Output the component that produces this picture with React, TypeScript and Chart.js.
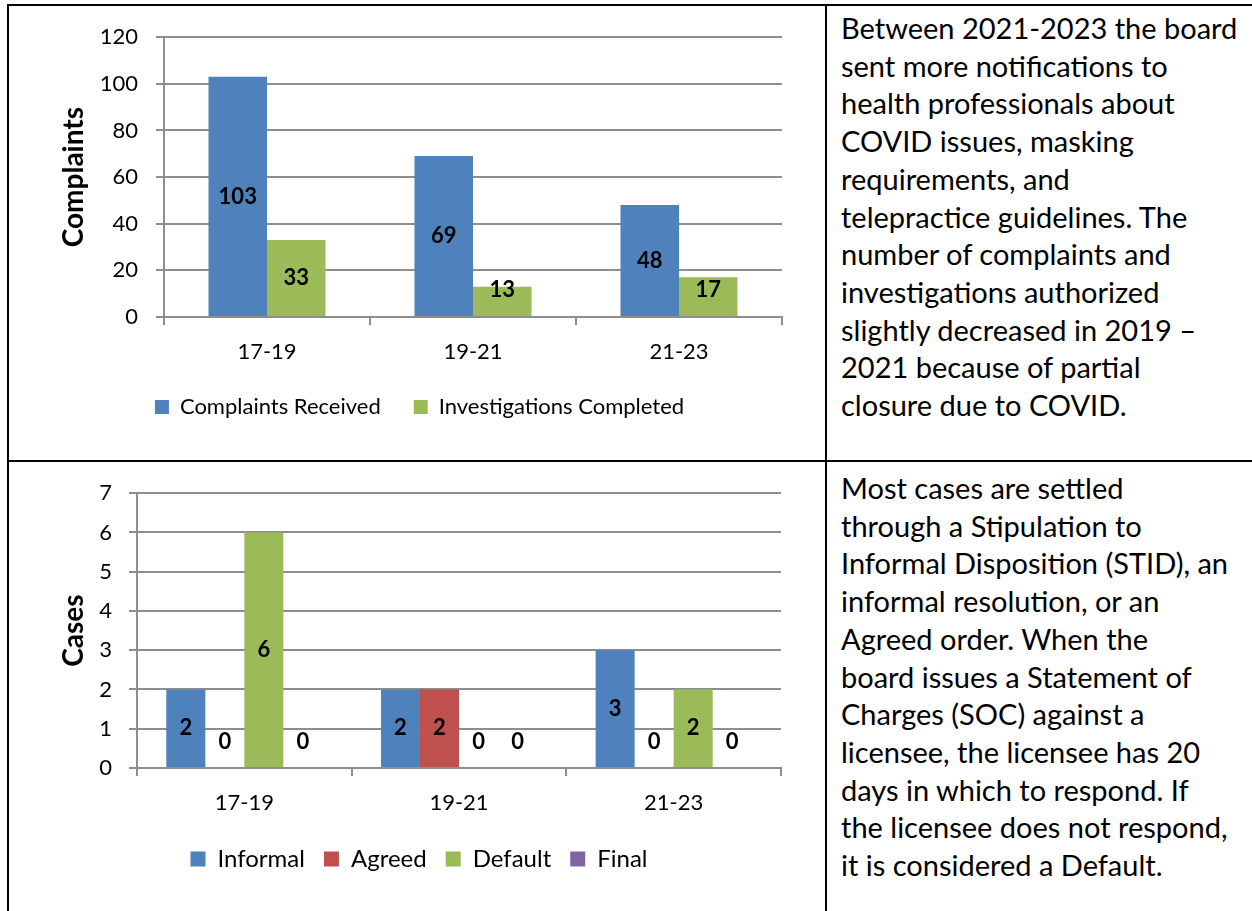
import React, { useEffect, useRef } from "react";
import { Chart, registerables } from "chart.js";

Chart.register(...registerables);

// ---------- data ----------
const periods = ["17-19", "19-21", "21-23"];
const complaintsReceived = [103, 69, 48];
const investigationsCompleted = [33, 13, 17];
const complaintsAxis = { min: 0, max: 120, step: 20 };

const informalCases = [2, 2, 3];
const agreedCases = [0, 2, 0];
const defaultCases = [6, 0, 2];
const finalCases = [0, 0, 0];
const casesAxis = { min: 0, max: 7, step: 1 };

const complaintsText = [
  "Between 2021-2023 the board",
  "sent more notifications to",
  "health professionals about",
  "COVID issues, masking",
  "requirements, and",
  "telepractice guidelines. The",
  "number of complaints and",
  "investigations authorized",
  "slightly decreased in 2019 \u2013",
  "2021 because of partial",
  "closure due to COVID.",
];
const casesText = [
  "Most cases are settled",
  "through a Stipulation to",
  "Informal Disposition (STID), an",
  "informal resolution, or an",
  "Agreed order. When the",
  "board issues a Statement of",
  "Charges (SOC) against a",
  "licensee, the licensee has 20",
  "days in which to respond. If",
  "the licensee does not respond,",
  "it is considered a Default.",
];

// ---------- style ----------
const FONT = "Lato, 'Open Sans', sans-serif";
const GRID = "#8e8e8e";
const BLUE = "#4F81BD";
const GREEN = "#9BBB59";
const RED = "#C0504D";
const PURPLE = "#8064A2";

const barLabelPlugin = {
  id: "barLabels",
  afterDatasetsDraw(chart: any) {
    const ctx = chart.ctx;
    ctx.save();
    ctx.font = `bold 22px ${FONT}`;
    ctx.fillStyle = "#000";
    ctx.textAlign = "center";
    ctx.textBaseline = "middle";
    chart.data.datasets.forEach((ds: any, i: number) => {
      const meta = chart.getDatasetMeta(i);
      meta.data.forEach((el: any, j: number) => {
        const { x, y, base } = el.getProps(["x", "y", "base"], true);
        const cy = Math.min((y + base) / 2, base - 26.5);
        ctx.fillText(String(ds.data[j]), x, cy);
      });
    });
    ctx.restore();
  },
};

type Cfg = {
  datasets: any[];
  axis: { min: number; max: number; step: number };
  title: string;
  catPct: number;
  canvasH: number;
  padLeft: number;
  padRight: number;
  padTop: number;
  areaBottom: number;
  yWidth: number;
  yTickPad: number;
  legendCenter: number;
  legendPad: number;
  legendFont: number;
  legendBox: number;
  titlePad: number;
};

function makeChart(canvas: HTMLCanvasElement, c: Cfg) {
  const item = Math.max(c.legendFont, c.legendBox);
  const padBottom = c.canvasH - (c.legendCenter + 10 + item / 2);
  const legendH = item + c.legendPad + 10;
  const xH = c.canvasH - padBottom - legendH - c.areaBottom;
  return new Chart(canvas, {
    type: "bar",
    data: { labels: periods, datasets: c.datasets },
    plugins: [barLabelPlugin],
    options: {
      responsive: false,
      animation: false,
      devicePixelRatio: 1,
      layout: { padding: { left: c.padLeft, right: c.padRight, top: c.padTop, bottom: padBottom } },
      datasets: { bar: { categoryPercentage: c.catPct, barPercentage: 1, borderWidth: 0 } },
      plugins: {
        tooltip: { enabled: false },
        legend: {
          position: "bottom",
          labels: {
            boxWidth: c.legendBox,
            boxHeight: c.legendBox,
            padding: c.legendPad,
            color: "#000",
            font: { family: FONT, size: c.legendFont },
          },
        },
      },
      scales: {
        x: {
          grid: { display: true, drawOnChartArea: false, drawTicks: true, tickLength: 8, color: GRID, lineWidth: 2, offset: true },
          border: { display: true, color: GRID, width: 2 },
          ticks: { color: "#000", font: { family: FONT, size: 22 }, padding: 13.8 },
          afterFit: (s: any) => { s.height = xH; },
        },
        y: {
          min: c.axis.min,
          max: c.axis.max,
          ticks: { stepSize: c.axis.step, color: "#000", font: { family: FONT, size: 22 }, padding: c.yTickPad },
          grid: { color: GRID, lineWidth: 2, tickLength: 8 },
          border: { display: true, color: GRID, width: 2 },
          title: {
            display: true,
            text: c.title,
            color: "#000",
            font: { family: FONT, size: 28, weight: "bold" },
            padding: { top: c.titlePad, bottom: 0 },
          },
          afterFit: (s: any) => { s.width = c.yWidth; },
        },
      },
    } as any,
  });
}

const line = (left: number, top: number, width: number, height: number): React.CSSProperties => ({
  position: "absolute", left, top, width, height, background: "#000",
});

function TextBlock({ lines, top }: { lines: string[]; top: number }) {
  return (
    <div style={{ position: "absolute", left: 841, top, fontFamily: FONT, fontSize: 29, lineHeight: "37.7px", color: "#000", whiteSpace: "nowrap" }}>
      {lines.map((l, i) => (
        <div key={i}>{l}</div>
      ))}
    </div>
  );
}

export default function App() {
  const ref1 = useRef<HTMLCanvasElement>(null);
  const ref2 = useRef<HTMLCanvasElement>(null);

  useEffect(() => {
    const c1 = makeChart(ref1.current!, {
      datasets: [
        { label: "Complaints Received", data: complaintsReceived, backgroundColor: BLUE },
        { label: "Investigations Completed", data: investigationsCompleted, backgroundColor: GREEN },
      ],
      axis: complaintsAxis,
      title: "Complaints",
      catPct: 0.568,
      canvasH: 454,
      padLeft: 48,
      padRight: 43,
      padTop: 29,
      areaBottom: 311,
      yWidth: 107,
      yTickPad: 18,
      legendCenter: 401,
      legendPad: 33,
      legendFont: 22,
      legendBox: 14,
      titlePad: 0,
    });
    const c2 = makeChart(ref2.current!, {
      datasets: [
        { label: "Informal", data: informalCases, backgroundColor: BLUE },
        { label: "Agreed", data: agreedCases, backgroundColor: RED },
        { label: "Default", data: defaultCases, backgroundColor: GREEN },
        { label: "Final", data: finalCases, backgroundColor: PURPLE },
      ],
      axis: casesAxis,
      title: "Cases",
      catPct: 0.727,
      canvasH: 448,
      padLeft: 48,
      padRight: 44,
      padTop: 30,
      areaBottom: 305,
      yWidth: 80,
      yTickPad: 17,
      legendCenter: 396,
      legendPad: 19,
      legendFont: 24,
      legendBox: 15,
      titlePad: 0,
    });
    return () => {
      c1.destroy();
      c2.destroy();
    };
  }, []);

  return (
    <div style={{ position: "absolute", left: 0, top: 0, width: 1252, height: 911, background: "#fff", overflow: "hidden" }}>
      <canvas ref={ref1} width={816} height={454} style={{ position: "absolute", left: 9, top: 6 }} />
      <canvas ref={ref2} width={816} height={448} style={{ position: "absolute", left: 9, top: 463 }} />
      <TextBlock lines={complaintsText} top={9} />
      <TextBlock lines={casesText} top={469} />
      <div style={line(7, 4, 1245, 2)} />
      <div style={line(7, 4, 2, 907)} />
      <div style={line(825, 4, 2, 907)} />
      <div style={line(7, 460, 1245, 2)} />
    </div>
  );
}
